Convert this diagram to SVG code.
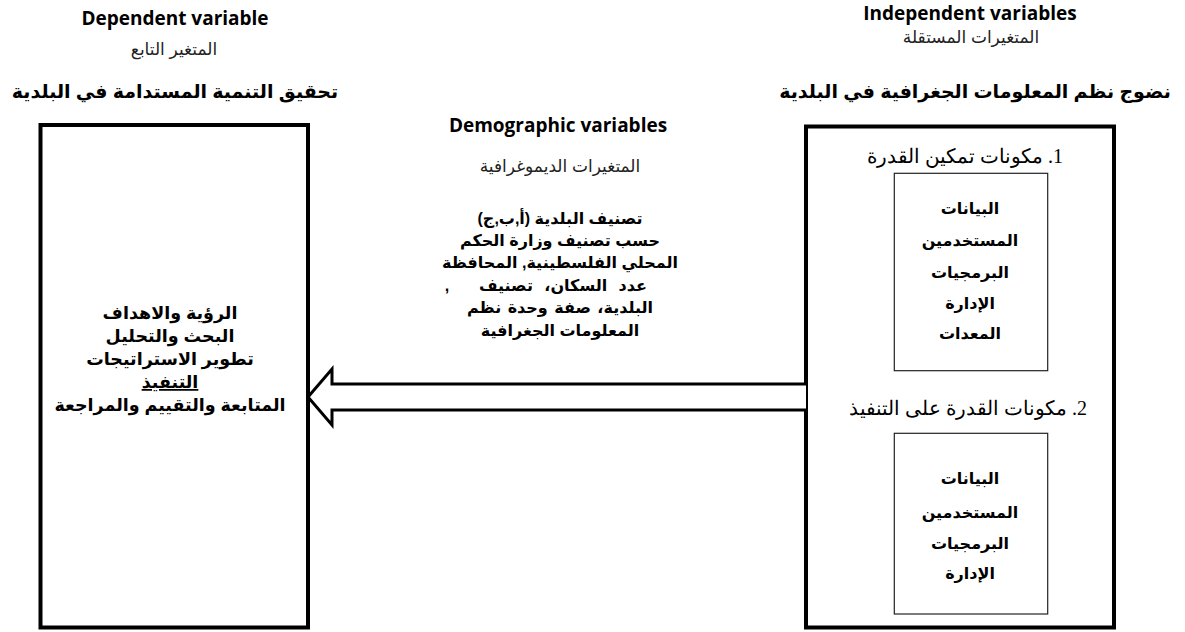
<svg xmlns="http://www.w3.org/2000/svg" width="1185" height="632" viewBox="0 0 1185 632">
<style>
.en{font-family:"Open Sans","Liberation Sans",sans-serif;font-weight:bold;font-size:19px;fill:#000;text-anchor:middle}
.ar{font-family:"Liberation Sans","DejaVu Sans",sans-serif;fill:#000;text-anchor:middle;direction:rtl}
.sub{font-size:17px;fill:#222}
.title{font-size:19px;font-weight:bold}
.b{font-size:16px;font-weight:bold}
.lb{font-size:17.5px;font-weight:bold}
.num{font-family:"Liberation Serif","DejaVu Serif",serif;font-size:20px}
.box{fill:#fff;stroke:#000;stroke-width:4}
.inner{fill:#fff;stroke:#222;stroke-width:1.2}
</style>
<rect width="1185" height="632" fill="#fff"/>
<g id="dependent-header">
<text class="en" x="175" y="25">Dependent variable</text>
<text class="ar sub" x="174" y="55">المتغير التابع</text>
<text class="ar title" x="175" y="98">تحقيق التنمية المستدامة في البلدية</text>
</g>
<g id="independent-header">
<text class="en" x="970" y="20">Independent variables</text>
<text class="ar sub" x="971" y="43">المتغيرات المستقلة</text>
<text class="ar title" x="975" y="98">نضوج نظم المعلومات الجغرافية في البلدية</text>
</g>
<g id="dependent-box">
<rect class="box" x="40.5" y="125" width="267.5" height="502.5"/>
<text class="ar lb" x="170" y="319">الرؤية والاهداف</text>
<text class="ar lb" x="170" y="342">البحث والتحليل</text>
<text class="ar lb" x="170" y="365">تطوير الاستراتيجات</text>
<text class="ar lb" x="170" y="388" text-decoration="underline">التنفيذ</text>
<text class="ar lb" x="170" y="411">المتابعة والتقييم والمراجعة</text>
</g>
<g id="independent-box">
<rect class="box" x="806" y="126.5" width="308" height="501"/>
<text class="ar num" x="965" y="163">1. مكونات تمكين القدرة</text>
<text class="ar num" x="968" y="415">2. مكونات القدرة على التنفيذ</text>
</g>
<g id="enabling-components">
<rect class="inner" x="894.3" y="173.3" width="153.4" height="197.4"/>
<text class="ar b" x="970" y="214">البيانات</text>
<text class="ar b" x="970" y="246">المستخدمين</text>
<text class="ar b" x="970" y="278">البرمجيات</text>
<text class="ar b" x="970" y="309">الإدارة</text>
<text class="ar b" x="970" y="339">المعدات</text>
</g>
<g id="implementation-components">
<rect class="inner" x="894.3" y="433.3" width="153.4" height="180.7"/>
<text class="ar b" x="970" y="484">البيانات</text>
<text class="ar b" x="970" y="518">المستخدمين</text>
<text class="ar b" x="970" y="549">البرمجيات</text>
<text class="ar b" x="970" y="579">الإدارة</text>
</g>
<g id="demographic-variables">
<text class="en" x="558" y="132">Demographic variables</text>
<text class="ar sub" x="560" y="172">المتغيرات الديموغرافية</text>
<text class="ar b" x="560" y="224">تصنيف البلدية (أ,ب,ج)</text>
<text class="ar b" x="560" y="246">حسب تصنيف وزارة الحكم</text>
<text class="ar b" x="560" y="268">المحلي الفلسطينية, المحافظة</text>
<text class="ar b" x="447" y="291">,</text>
<text class="ar b" x="563" y="291" word-spacing="7">عدد السكان، تصنيف</text>
<text class="ar b" x="560" y="313" word-spacing="2">البلدية، صفة وحدة نظم</text>
<text class="ar b" x="560" y="336">المعلومات الجغرافية</text>
</g>
<g id="connectors">
<path d="M806,384 L332,384 L332,369 L308,397 L332,425 L332,410 L806,410" fill="#fff" stroke="#000" stroke-width="3" stroke-linejoin="miter"/>
</g>
</svg>
